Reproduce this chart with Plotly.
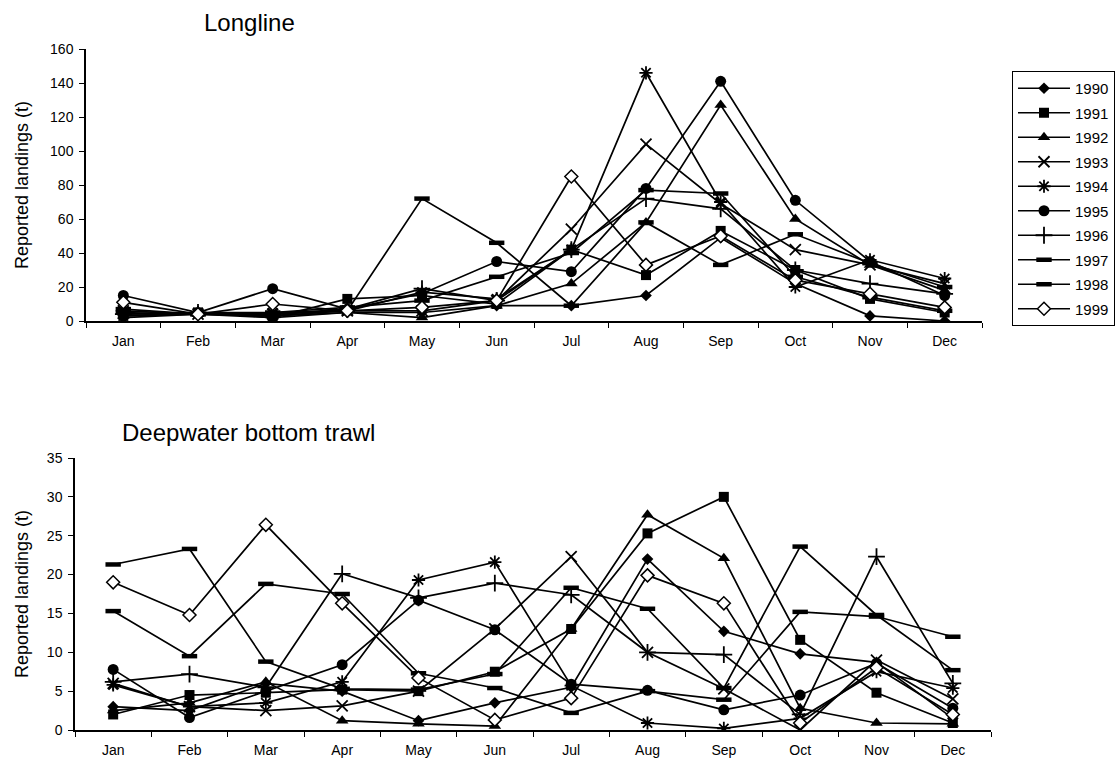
import plotly.graph_objects as go

months = ["Jan", "Feb", "Mar", "Apr", "May", "Jun", "Jul", "Aug", "Sep", "Oct", "Nov", "Dec"]
years = ["1990", "1991", "1992", "1993", "1994", "1995", "1996", "1997", "1998", "1999"]

# Longline reported landings (t), by year
longline_1990 = [2, 4, 2, 5, 5, 9, 9, 15, 49, 22, 3, 0]
longline_1991 = [3, 5, 2, 13, 15, 10, 42, 27, 53, 30, 13, 5]
longline_1992 = [3, 4, 3, 5, 2, 9, 22, 58, 127, 60, 33, 18]
longline_1993 = [6, 4, 4, 6, 6, 12, 54, 104, 69, 42, 33, 22]
longline_1994 = [4, 5, 5, 6, 17, 13, 42, 146, 70, 20, 36, 25]
longline_1995 = [15, 5, 19, 7, 16, 35, 29, 78, 141, 71, 35, 15]
longline_1996 = [4, 5, 4, 7, 19, 12, 42, 72, 66, 30, 22, 16]
longline_1997 = [7, 4, 5, 8, 12, 26, 40, 77, 75, 26, 14, 6]
longline_1998 = [5, 4, 3, 6, 72, 46, 9, 58, 33, 51, 34, 20]
longline_1999 = [11, 4, 10, 6, 8, 12, 85, 33, 50, 24, 16, 8]

# Deepwater bottom trawl reported landings (t), by year
trawl_1990 = [3, 2.5, 6, 5, 1.2, 3.5, 5.5, 22, 12.7, 9.8, 8.7, 1.5]
trawl_1991 = [2, 4.5, 4.8, 5.2, 5, 7.5, 13, 25.3, 30, 11.6, 4.8, 0.9]
trawl_1992 = [2.5, 3.5, 6.2, 1.2, 0.8, 0.5, 13, 27.7, 22.1, 2.8, 0.9, 0.8]
trawl_1993 = [6, 3, 2.5, 3.1, 5, 13, 22.3, 10, 5.3, 0, 9, 4]
trawl_1994 = [5.8, 3, 3.5, 6.2, 19.3, 21.6, 5.7, 0.9, 0.2, 1.5, 7.5, 5.4]
trawl_1995 = [7.8, 1.6, 5, 8.4, 16.7, 12.9, 5.9, 5.1, 2.6, 4.5, 8.6, 2.8]
trawl_1996 = [6.2, 7.2, 5.5, 20.1, 17, 18.9, 17.4, 10, 9.7, 2, 22.3, 6]
trawl_1997 = [15.3, 9.5, 18.8, 17.5, 7.3, 5.4, 2.2, 5, 3.9, 15.2, 14.6, 12]
trawl_1998 = [21.3, 23.3, 8.8, 5.3, 5.2, 7.2, 18.3, 15.6, 5.4, 23.6, 14.8, 7.7]
trawl_1999 = [19, 14.8, 26.4, 16.3, 6.7, 1.3, 4.1, 19.9, 16.3, 0.9, 8, 2]

longline = [longline_1990, longline_1991, longline_1992, longline_1993, longline_1994,
            longline_1995, longline_1996, longline_1997, longline_1998, longline_1999]
trawl = [trawl_1990, trawl_1991, trawl_1992, trawl_1993, trawl_1994,
         trawl_1995, trawl_1996, trawl_1997, trawl_1998, trawl_1999]

# marker style per year: (symbol, size, fill colour, outline width)
styles = [
    ("diamond", 9, "black", 0),
    ("square", 10, "black", 0),
    ("triangle-up", 11, "black", 0),
    ("x-thin-open", 11, "black", 1.8),
    ("asterisk-open", 11, "black", 1.8),
    ("circle", 11, "black", 0),
    ("cross-thin-open", 12, "black", 1.8),
    ("line-ew-open", 11, "black", 4.5),
    ("line-ew-open", 11, "black", 4.5),
    ("diamond", 10, "white", 1.5),
]

fig = go.Figure()

for i, year in enumerate(years):
    sym, size, fill, lw = styles[i]
    marker = dict(symbol=sym, size=size, color=fill,
                  line=dict(color="black", width=lw))
    fig.add_trace(go.Scatter(
        x=months, y=longline[i], mode="lines+markers", name=year,
        legendgroup=year, line=dict(color="black", width=1.7),
        marker=marker, xaxis="x", yaxis="y", showlegend=True))
    fig.add_trace(go.Scatter(
        x=months, y=trawl[i], mode="lines+markers", name=year,
        legendgroup=year, line=dict(color="black", width=1.7),
        marker=marker, xaxis="x2", yaxis="y2", showlegend=False))

W, H = 1120, 767
font_family = "Liberation Sans, Arial, sans-serif"

axis_common = dict(
    showline=True, linecolor="black", linewidth=1.5,
    ticks="outside", tickcolor="black", ticklen=5, tickwidth=1.2,
    showgrid=False, zeroline=False, automargin=False,
    tickfont=dict(family=font_family, size=14, color="black"),
)

fig.update_layout(
    width=W, height=H,
    margin=dict(l=0, r=0, t=0, b=0, autoexpand=False),
    paper_bgcolor="white", plot_bgcolor="white",
    font=dict(family=font_family, color="black"),
    xaxis=dict(domain=[86 / W, 982 / W], anchor="y", type="category",
               range=[-0.5, 11.5], tickson="boundaries", ticklabelstandoff=6,
               **axis_common),
    yaxis=dict(domain=[1 - 321 / H, 1 - 49 / H], anchor="x",
               range=[0, 160], dtick=20, ticklabelstandoff=3, **axis_common),
    xaxis2=dict(domain=[75 / W, 991 / W], anchor="y2", type="category",
                range=[-0.5, 11.5], tickson="boundaries", ticklabelstandoff=6,
                **axis_common),
    yaxis2=dict(domain=[1 - 730 / H, 1 - 458 / H], anchor="x2",
                range=[0, 35], dtick=5, ticklabelstandoff=3, **axis_common),
    legend=dict(
        x=1012 / W, y=1 - 71 / H, xanchor="left", yanchor="top",
        bordercolor="black", borderwidth=1, bgcolor="white",
        font=dict(family=font_family, size=15, color="black"),
        tracegroupgap=2, itemwidth=52,
    ),
    showlegend=True,
)

# panel titles and y-axis labels
fig.add_annotation(text="Longline", xref="paper", yref="paper",
                   x=202 / W, y=1 - 23 / H, xanchor="left", yanchor="middle",
                   showarrow=False, font=dict(family=font_family, size=24))
fig.add_annotation(text="Deepwater bottom trawl", xref="paper", yref="paper",
                   x=120 / W, y=1 - 432 / H, xanchor="left", yanchor="middle",
                   showarrow=False, font=dict(family=font_family, size=24))
for yc in [(49 + 321) / 2, (458 + 730) / 2]:
    fig.add_annotation(text="Reported landings (t)", xref="paper", yref="paper",
                       x=22 / W, y=1 - yc / H, xanchor="center", yanchor="middle",
                       textangle=-90, showarrow=False,
                       font=dict(family=font_family, size=18))

fig.write_html("out.html")
